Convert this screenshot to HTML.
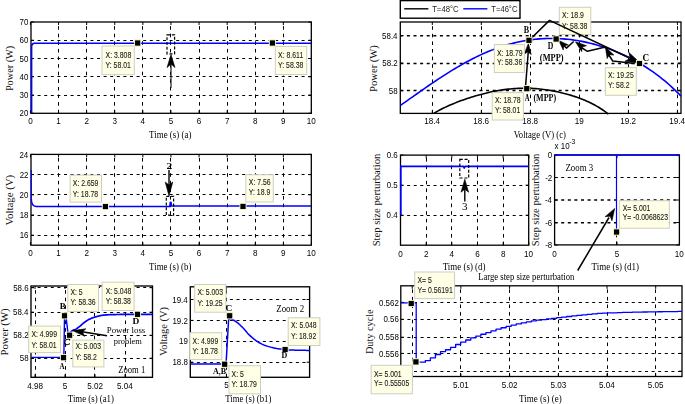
<!DOCTYPE html>
<html><head><meta charset="utf-8"><style>
html,body{margin:0;padding:0;background:#fff;}
svg{display:block;}
</style></head><body>
<svg width="685" height="404" viewBox="0 0 685 404">
<defs><filter id="gs" x="0" y="0" width="100%" height="100%"><feColorMatrix type="saturate" values="0"/></filter></defs>
<rect width="685" height="404" fill="#fff"/>
<line x1="58.50" y1="113.30" x2="58.50" y2="22.00" stroke="#000" stroke-width="1.0" stroke-dasharray="3.6 4"/>
<line x1="86.50" y1="113.30" x2="86.50" y2="22.00" stroke="#000" stroke-width="1.0" stroke-dasharray="3.6 4"/>
<line x1="114.50" y1="113.30" x2="114.50" y2="22.00" stroke="#000" stroke-width="1.0" stroke-dasharray="3.6 4"/>
<line x1="142.50" y1="113.30" x2="142.50" y2="22.00" stroke="#000" stroke-width="1.0" stroke-dasharray="3.6 4"/>
<line x1="170.50" y1="113.30" x2="170.50" y2="22.00" stroke="#000" stroke-width="1.0" stroke-dasharray="3.6 4"/>
<line x1="199.50" y1="113.30" x2="199.50" y2="22.00" stroke="#000" stroke-width="1.0" stroke-dasharray="3.6 4"/>
<line x1="227.50" y1="113.30" x2="227.50" y2="22.00" stroke="#000" stroke-width="1.0" stroke-dasharray="3.6 4"/>
<line x1="255.50" y1="113.30" x2="255.50" y2="22.00" stroke="#000" stroke-width="1.0" stroke-dasharray="3.6 4"/>
<line x1="283.50" y1="113.30" x2="283.50" y2="22.00" stroke="#000" stroke-width="1.0" stroke-dasharray="3.6 4"/>
<line x1="31.00" y1="95.50" x2="311.30" y2="95.50" stroke="#000" stroke-width="1.0" stroke-dasharray="3 3.6"/>
<line x1="31.00" y1="76.50" x2="311.30" y2="76.50" stroke="#000" stroke-width="1.0" stroke-dasharray="3 3.6"/>
<line x1="31.00" y1="58.50" x2="311.30" y2="58.50" stroke="#000" stroke-width="1.0" stroke-dasharray="3 3.6"/>
<line x1="31.00" y1="40.50" x2="311.30" y2="40.50" stroke="#000" stroke-width="1.0" stroke-dasharray="3 3.6"/>
<line x1="30.45" y1="113.30" x2="30.45" y2="110.30" stroke="#000" stroke-width="1"/>
<line x1="30.45" y1="22.00" x2="30.45" y2="25.00" stroke="#000" stroke-width="1"/>
<line x1="58.55" y1="113.30" x2="58.55" y2="110.30" stroke="#000" stroke-width="1"/>
<line x1="58.55" y1="22.00" x2="58.55" y2="25.00" stroke="#000" stroke-width="1"/>
<line x1="86.65" y1="113.30" x2="86.65" y2="110.30" stroke="#000" stroke-width="1"/>
<line x1="86.65" y1="22.00" x2="86.65" y2="25.00" stroke="#000" stroke-width="1"/>
<line x1="114.75" y1="113.30" x2="114.75" y2="110.30" stroke="#000" stroke-width="1"/>
<line x1="114.75" y1="22.00" x2="114.75" y2="25.00" stroke="#000" stroke-width="1"/>
<line x1="142.85" y1="113.30" x2="142.85" y2="110.30" stroke="#000" stroke-width="1"/>
<line x1="142.85" y1="22.00" x2="142.85" y2="25.00" stroke="#000" stroke-width="1"/>
<line x1="170.95" y1="113.30" x2="170.95" y2="110.30" stroke="#000" stroke-width="1"/>
<line x1="170.95" y1="22.00" x2="170.95" y2="25.00" stroke="#000" stroke-width="1"/>
<line x1="199.05" y1="113.30" x2="199.05" y2="110.30" stroke="#000" stroke-width="1"/>
<line x1="199.05" y1="22.00" x2="199.05" y2="25.00" stroke="#000" stroke-width="1"/>
<line x1="227.15" y1="113.30" x2="227.15" y2="110.30" stroke="#000" stroke-width="1"/>
<line x1="227.15" y1="22.00" x2="227.15" y2="25.00" stroke="#000" stroke-width="1"/>
<line x1="255.25" y1="113.30" x2="255.25" y2="110.30" stroke="#000" stroke-width="1"/>
<line x1="255.25" y1="22.00" x2="255.25" y2="25.00" stroke="#000" stroke-width="1"/>
<line x1="283.35" y1="113.30" x2="283.35" y2="110.30" stroke="#000" stroke-width="1"/>
<line x1="283.35" y1="22.00" x2="283.35" y2="25.00" stroke="#000" stroke-width="1"/>
<line x1="311.45" y1="113.30" x2="311.45" y2="110.30" stroke="#000" stroke-width="1"/>
<line x1="311.45" y1="22.00" x2="311.45" y2="25.00" stroke="#000" stroke-width="1"/>
<line x1="31.00" y1="113.30" x2="34.00" y2="113.30" stroke="#000" stroke-width="1"/>
<line x1="311.30" y1="113.30" x2="308.30" y2="113.30" stroke="#000" stroke-width="1"/>
<line x1="31.00" y1="95.04" x2="34.00" y2="95.04" stroke="#000" stroke-width="1"/>
<line x1="311.30" y1="95.04" x2="308.30" y2="95.04" stroke="#000" stroke-width="1"/>
<line x1="31.00" y1="76.78" x2="34.00" y2="76.78" stroke="#000" stroke-width="1"/>
<line x1="311.30" y1="76.78" x2="308.30" y2="76.78" stroke="#000" stroke-width="1"/>
<line x1="31.00" y1="58.52" x2="34.00" y2="58.52" stroke="#000" stroke-width="1"/>
<line x1="311.30" y1="58.52" x2="308.30" y2="58.52" stroke="#000" stroke-width="1"/>
<line x1="31.00" y1="40.26" x2="34.00" y2="40.26" stroke="#000" stroke-width="1"/>
<line x1="311.30" y1="40.26" x2="308.30" y2="40.26" stroke="#000" stroke-width="1"/>
<line x1="31.00" y1="22.00" x2="34.00" y2="22.00" stroke="#000" stroke-width="1"/>
<line x1="311.30" y1="22.00" x2="308.30" y2="22.00" stroke="#000" stroke-width="1"/>
<rect x="31.00" y="22.00" width="280.30" height="91.30" fill="none" stroke="#000" stroke-width="1.3"/>
<text filter="url(#gs)" transform="translate(28.18,124.40) scale(0.820,1)" font-family="Liberation Sans" font-weight="normal" font-size="9.9" fill="#000">0</text>
<text filter="url(#gs)" transform="translate(56.16,124.40) scale(0.820,1)" font-family="Liberation Sans" font-weight="normal" font-size="9.9" fill="#000">1</text>
<text filter="url(#gs)" transform="translate(84.38,124.40) scale(0.820,1)" font-family="Liberation Sans" font-weight="normal" font-size="9.9" fill="#000">2</text>
<text filter="url(#gs)" transform="translate(112.52,124.40) scale(0.820,1)" font-family="Liberation Sans" font-weight="normal" font-size="9.9" fill="#000">3</text>
<text filter="url(#gs)" transform="translate(140.62,124.40) scale(0.820,1)" font-family="Liberation Sans" font-weight="normal" font-size="9.9" fill="#000">4</text>
<text filter="url(#gs)" transform="translate(168.72,124.40) scale(0.820,1)" font-family="Liberation Sans" font-weight="normal" font-size="9.9" fill="#000">5</text>
<text filter="url(#gs)" transform="translate(196.78,124.40) scale(0.820,1)" font-family="Liberation Sans" font-weight="normal" font-size="9.9" fill="#000">6</text>
<text filter="url(#gs)" transform="translate(224.88,124.40) scale(0.820,1)" font-family="Liberation Sans" font-weight="normal" font-size="9.9" fill="#000">7</text>
<text filter="url(#gs)" transform="translate(253.02,124.40) scale(0.820,1)" font-family="Liberation Sans" font-weight="normal" font-size="9.9" fill="#000">8</text>
<text filter="url(#gs)" transform="translate(281.08,124.40) scale(0.820,1)" font-family="Liberation Sans" font-weight="normal" font-size="9.9" fill="#000">9</text>
<text filter="url(#gs)" transform="translate(306.74,124.40) scale(0.820,1)" font-family="Liberation Sans" font-weight="normal" font-size="9.9" fill="#000">10</text>
<text filter="url(#gs)" transform="translate(19.55,116.45) scale(0.800,1)" font-family="Liberation Sans" font-weight="normal" font-size="9.9" fill="#000">20</text>
<text filter="url(#gs)" transform="translate(19.55,98.19) scale(0.800,1)" font-family="Liberation Sans" font-weight="normal" font-size="9.9" fill="#000">30</text>
<text filter="url(#gs)" transform="translate(19.55,79.93) scale(0.800,1)" font-family="Liberation Sans" font-weight="normal" font-size="9.9" fill="#000">40</text>
<text filter="url(#gs)" transform="translate(19.55,61.67) scale(0.800,1)" font-family="Liberation Sans" font-weight="normal" font-size="9.9" fill="#000">50</text>
<text filter="url(#gs)" transform="translate(19.55,43.41) scale(0.800,1)" font-family="Liberation Sans" font-weight="normal" font-size="9.9" fill="#000">60</text>
<text filter="url(#gs)" transform="translate(19.55,25.15) scale(0.800,1)" font-family="Liberation Sans" font-weight="normal" font-size="9.9" fill="#000">70</text>
<text filter="url(#gs)" transform="translate(149.12,138.00) scale(0.891,1)" font-family="Liberation Serif" font-weight="normal" font-size="10" fill="#000">Time (s) (a)</text>
<text transform="translate(13.20,91.11) rotate(-90) scale(1.028,1)" font-family="Liberation Serif" font-weight="normal" font-size="10" fill="#111">Power (W)</text>
<path d="M31.6,113.3 V46.5 Q31.6,43.4 34.5,43.3 H311" stroke="#0000ff" stroke-width="1.55" fill="none" stroke-linejoin="round"/>
<rect x="167.00" y="34.80" width="7.60" height="19.10" fill="none" stroke="#000" stroke-width="1.2" stroke-dasharray="3 1.8"/>
<line x1="171.00" y1="88.00" x2="171.00" y2="60.00" stroke="#222" stroke-width="1.2"/>
<path d="M171.00,54.60 L175.00,67.60 L171.00,64.10 L167.00,67.60Z" fill="#000" stroke="#000" stroke-width="0.6" stroke-linejoin="miter"/>
<rect x="102.00" y="46.00" width="32.30" height="28.70" fill="#ffffe6" stroke="#cdcdc4" stroke-width="1"/>
<text filter="url(#gs)" transform="translate(105.59,57.70) scale(0.840,1)" font-family="Liberation Sans" font-weight="normal" font-size="8.2" fill="#1a1a1a" stroke="#1a1a1a" stroke-width="0.1">X: 3.808</text>
<text filter="url(#gs)" transform="translate(105.59,68.10) scale(0.840,1)" font-family="Liberation Sans" font-weight="normal" font-size="8.2" fill="#1a1a1a" stroke="#1a1a1a" stroke-width="0.1">Y: 58.01</text>
<rect x="134.60" y="39.90" width="6.2" height="6.2" fill="#000" stroke="#ffffc8" stroke-width="0.9"/>
<rect x="275.30" y="46.40" width="31.40" height="28.10" fill="#ffffe6" stroke="#cdcdc4" stroke-width="1"/>
<text filter="url(#gs)" transform="translate(278.09,57.60) scale(0.840,1)" font-family="Liberation Sans" font-weight="normal" font-size="8.2" fill="#1a1a1a" stroke="#1a1a1a" stroke-width="0.1">X: 8.611</text>
<text filter="url(#gs)" transform="translate(278.09,67.80) scale(0.840,1)" font-family="Liberation Sans" font-weight="normal" font-size="8.2" fill="#1a1a1a" stroke="#1a1a1a" stroke-width="0.1">Y: 58.38</text>
<rect x="269.30" y="39.90" width="6.2" height="6.2" fill="#000" stroke="#ffffc8" stroke-width="0.9"/>
<line x1="58.50" y1="245.20" x2="58.50" y2="154.40" stroke="#000" stroke-width="1.0" stroke-dasharray="3.6 4"/>
<line x1="86.50" y1="245.20" x2="86.50" y2="154.40" stroke="#000" stroke-width="1.0" stroke-dasharray="3.6 4"/>
<line x1="114.50" y1="245.20" x2="114.50" y2="154.40" stroke="#000" stroke-width="1.0" stroke-dasharray="3.6 4"/>
<line x1="142.50" y1="245.20" x2="142.50" y2="154.40" stroke="#000" stroke-width="1.0" stroke-dasharray="3.6 4"/>
<line x1="170.50" y1="245.20" x2="170.50" y2="154.40" stroke="#000" stroke-width="1.0" stroke-dasharray="3.6 4"/>
<line x1="199.50" y1="245.20" x2="199.50" y2="154.40" stroke="#000" stroke-width="1.0" stroke-dasharray="3.6 4"/>
<line x1="227.50" y1="245.20" x2="227.50" y2="154.40" stroke="#000" stroke-width="1.0" stroke-dasharray="3.6 4"/>
<line x1="255.50" y1="245.20" x2="255.50" y2="154.40" stroke="#000" stroke-width="1.0" stroke-dasharray="3.6 4"/>
<line x1="283.50" y1="245.20" x2="283.50" y2="154.40" stroke="#000" stroke-width="1.0" stroke-dasharray="3.6 4"/>
<line x1="31.00" y1="235.50" x2="311.30" y2="235.50" stroke="#000" stroke-width="1.0" stroke-dasharray="3 3.6"/>
<line x1="31.00" y1="215.50" x2="311.30" y2="215.50" stroke="#000" stroke-width="1.0" stroke-dasharray="3 3.6"/>
<line x1="31.00" y1="194.50" x2="311.30" y2="194.50" stroke="#000" stroke-width="1.0" stroke-dasharray="3 3.6"/>
<line x1="31.00" y1="174.50" x2="311.30" y2="174.50" stroke="#000" stroke-width="1.0" stroke-dasharray="3 3.6"/>
<line x1="30.45" y1="245.20" x2="30.45" y2="242.20" stroke="#000" stroke-width="1"/>
<line x1="30.45" y1="154.40" x2="30.45" y2="157.40" stroke="#000" stroke-width="1"/>
<line x1="58.55" y1="245.20" x2="58.55" y2="242.20" stroke="#000" stroke-width="1"/>
<line x1="58.55" y1="154.40" x2="58.55" y2="157.40" stroke="#000" stroke-width="1"/>
<line x1="86.65" y1="245.20" x2="86.65" y2="242.20" stroke="#000" stroke-width="1"/>
<line x1="86.65" y1="154.40" x2="86.65" y2="157.40" stroke="#000" stroke-width="1"/>
<line x1="114.75" y1="245.20" x2="114.75" y2="242.20" stroke="#000" stroke-width="1"/>
<line x1="114.75" y1="154.40" x2="114.75" y2="157.40" stroke="#000" stroke-width="1"/>
<line x1="142.85" y1="245.20" x2="142.85" y2="242.20" stroke="#000" stroke-width="1"/>
<line x1="142.85" y1="154.40" x2="142.85" y2="157.40" stroke="#000" stroke-width="1"/>
<line x1="170.95" y1="245.20" x2="170.95" y2="242.20" stroke="#000" stroke-width="1"/>
<line x1="170.95" y1="154.40" x2="170.95" y2="157.40" stroke="#000" stroke-width="1"/>
<line x1="199.05" y1="245.20" x2="199.05" y2="242.20" stroke="#000" stroke-width="1"/>
<line x1="199.05" y1="154.40" x2="199.05" y2="157.40" stroke="#000" stroke-width="1"/>
<line x1="227.15" y1="245.20" x2="227.15" y2="242.20" stroke="#000" stroke-width="1"/>
<line x1="227.15" y1="154.40" x2="227.15" y2="157.40" stroke="#000" stroke-width="1"/>
<line x1="255.25" y1="245.20" x2="255.25" y2="242.20" stroke="#000" stroke-width="1"/>
<line x1="255.25" y1="154.40" x2="255.25" y2="157.40" stroke="#000" stroke-width="1"/>
<line x1="283.35" y1="245.20" x2="283.35" y2="242.20" stroke="#000" stroke-width="1"/>
<line x1="283.35" y1="154.40" x2="283.35" y2="157.40" stroke="#000" stroke-width="1"/>
<line x1="311.45" y1="245.20" x2="311.45" y2="242.20" stroke="#000" stroke-width="1"/>
<line x1="311.45" y1="154.40" x2="311.45" y2="157.40" stroke="#000" stroke-width="1"/>
<line x1="31.00" y1="235.20" x2="34.00" y2="235.20" stroke="#000" stroke-width="1"/>
<line x1="311.30" y1="235.20" x2="308.30" y2="235.20" stroke="#000" stroke-width="1"/>
<line x1="31.00" y1="215.00" x2="34.00" y2="215.00" stroke="#000" stroke-width="1"/>
<line x1="311.30" y1="215.00" x2="308.30" y2="215.00" stroke="#000" stroke-width="1"/>
<line x1="31.00" y1="194.80" x2="34.00" y2="194.80" stroke="#000" stroke-width="1"/>
<line x1="311.30" y1="194.80" x2="308.30" y2="194.80" stroke="#000" stroke-width="1"/>
<line x1="31.00" y1="174.60" x2="34.00" y2="174.60" stroke="#000" stroke-width="1"/>
<line x1="311.30" y1="174.60" x2="308.30" y2="174.60" stroke="#000" stroke-width="1"/>
<line x1="31.00" y1="154.40" x2="34.00" y2="154.40" stroke="#000" stroke-width="1"/>
<line x1="311.30" y1="154.40" x2="308.30" y2="154.40" stroke="#000" stroke-width="1"/>
<rect x="31.00" y="154.40" width="280.30" height="90.80" fill="none" stroke="#000" stroke-width="1.3"/>
<text filter="url(#gs)" transform="translate(28.18,256.10) scale(0.820,1)" font-family="Liberation Sans" font-weight="normal" font-size="9.9" fill="#000">0</text>
<text filter="url(#gs)" transform="translate(56.16,256.10) scale(0.820,1)" font-family="Liberation Sans" font-weight="normal" font-size="9.9" fill="#000">1</text>
<text filter="url(#gs)" transform="translate(84.38,256.10) scale(0.820,1)" font-family="Liberation Sans" font-weight="normal" font-size="9.9" fill="#000">2</text>
<text filter="url(#gs)" transform="translate(112.52,256.10) scale(0.820,1)" font-family="Liberation Sans" font-weight="normal" font-size="9.9" fill="#000">3</text>
<text filter="url(#gs)" transform="translate(140.62,256.10) scale(0.820,1)" font-family="Liberation Sans" font-weight="normal" font-size="9.9" fill="#000">4</text>
<text filter="url(#gs)" transform="translate(168.72,256.10) scale(0.820,1)" font-family="Liberation Sans" font-weight="normal" font-size="9.9" fill="#000">5</text>
<text filter="url(#gs)" transform="translate(196.78,256.10) scale(0.820,1)" font-family="Liberation Sans" font-weight="normal" font-size="9.9" fill="#000">6</text>
<text filter="url(#gs)" transform="translate(224.88,256.10) scale(0.820,1)" font-family="Liberation Sans" font-weight="normal" font-size="9.9" fill="#000">7</text>
<text filter="url(#gs)" transform="translate(253.02,256.10) scale(0.820,1)" font-family="Liberation Sans" font-weight="normal" font-size="9.9" fill="#000">8</text>
<text filter="url(#gs)" transform="translate(281.08,256.10) scale(0.820,1)" font-family="Liberation Sans" font-weight="normal" font-size="9.9" fill="#000">9</text>
<text filter="url(#gs)" transform="translate(306.74,256.10) scale(0.820,1)" font-family="Liberation Sans" font-weight="normal" font-size="9.9" fill="#000">10</text>
<text filter="url(#gs)" transform="translate(19.63,238.35) scale(0.800,1)" font-family="Liberation Sans" font-weight="normal" font-size="9.9" fill="#000">16</text>
<text filter="url(#gs)" transform="translate(19.63,218.15) scale(0.800,1)" font-family="Liberation Sans" font-weight="normal" font-size="9.9" fill="#000">18</text>
<text filter="url(#gs)" transform="translate(19.55,197.95) scale(0.800,1)" font-family="Liberation Sans" font-weight="normal" font-size="9.9" fill="#000">20</text>
<text filter="url(#gs)" transform="translate(19.63,177.75) scale(0.800,1)" font-family="Liberation Sans" font-weight="normal" font-size="9.9" fill="#000">22</text>
<text filter="url(#gs)" transform="translate(19.47,157.55) scale(0.800,1)" font-family="Liberation Sans" font-weight="normal" font-size="9.9" fill="#000">24</text>
<text filter="url(#gs)" transform="translate(149.12,269.50) scale(0.882,1)" font-family="Liberation Serif" font-weight="normal" font-size="10" fill="#000">Time (s) (b)</text>
<text transform="translate(13.20,225.41) rotate(-90) scale(1.084,1)" font-family="Liberation Serif" font-weight="normal" font-size="10" fill="#111">Voltage (V)</text>
<path d="M31.3,170 V199" stroke="#0000ff" stroke-width="1.1" fill="none" stroke-linejoin="round"/>
<path d="M31.3,199 Q31.4,206.2 36,206.4 H169.8 L170.3,202.3 L171,202.3 L171.6,206 H311" stroke="#0000ff" stroke-width="1.55" fill="none" stroke-linejoin="round"/>
<rect x="166.30" y="196.30" width="7.30" height="18.90" fill="none" stroke="#000" stroke-width="1.2" stroke-dasharray="3 1.8"/>
<text filter="url(#gs)" transform="translate(166.44,169.30) scale(1.270,1)" font-family="Liberation Serif" font-weight="bold" font-size="9" fill="#000">2</text>
<line x1="169.00" y1="170.00" x2="169.00" y2="185.00" stroke="#000" stroke-width="1.4"/>
<path d="M169.00,196.00 L165.20,182.00 L169.00,185.00 L172.80,182.00Z" fill="#000" stroke="#000" stroke-width="0.6" stroke-linejoin="miter"/>
<rect x="70.10" y="175.10" width="31.40" height="27.00" fill="#ffffe6" stroke="#cdcdc4" stroke-width="1"/>
<text filter="url(#gs)" transform="translate(72.79,185.80) scale(0.840,1)" font-family="Liberation Sans" font-weight="normal" font-size="8.2" fill="#1a1a1a" stroke="#1a1a1a" stroke-width="0.1">X: 2.659</text>
<text filter="url(#gs)" transform="translate(72.79,196.60) scale(0.840,1)" font-family="Liberation Sans" font-weight="normal" font-size="8.2" fill="#1a1a1a" stroke="#1a1a1a" stroke-width="0.1">Y: 18.78</text>
<rect x="102.30" y="203.50" width="6.2" height="6.2" fill="#000" stroke="#ffffc8" stroke-width="0.9"/>
<rect x="245.90" y="174.70" width="27.40" height="27.30" fill="#ffffe6" stroke="#cdcdc4" stroke-width="1"/>
<text filter="url(#gs)" transform="translate(248.79,184.70) scale(0.840,1)" font-family="Liberation Sans" font-weight="normal" font-size="8.2" fill="#1a1a1a" stroke="#1a1a1a" stroke-width="0.1">X: 7.56</text>
<text filter="url(#gs)" transform="translate(248.79,195.10) scale(0.840,1)" font-family="Liberation Sans" font-weight="normal" font-size="8.2" fill="#1a1a1a" stroke="#1a1a1a" stroke-width="0.1">Y: 18.9</text>
<rect x="239.90" y="203.30" width="6.2" height="6.2" fill="#000" stroke="#ffffc8" stroke-width="0.9"/>
<line x1="35.50" y1="377.30" x2="35.50" y2="286.00" stroke="#000" stroke-width="1.0" stroke-dasharray="3.6 4"/>
<line x1="65.50" y1="377.30" x2="65.50" y2="286.00" stroke="#000" stroke-width="1.0" stroke-dasharray="3.6 4"/>
<line x1="94.50" y1="377.30" x2="94.50" y2="286.00" stroke="#000" stroke-width="1.0" stroke-dasharray="3.6 4"/>
<line x1="125.50" y1="377.30" x2="125.50" y2="286.00" stroke="#000" stroke-width="1.0" stroke-dasharray="3.6 4"/>
<line x1="31.00" y1="358.50" x2="152.50" y2="358.50" stroke="#000" stroke-width="1.0" stroke-dasharray="3 3.6"/>
<line x1="31.00" y1="335.50" x2="152.50" y2="335.50" stroke="#000" stroke-width="1.0" stroke-dasharray="3 3.6"/>
<line x1="31.00" y1="312.50" x2="152.50" y2="312.50" stroke="#000" stroke-width="1.0" stroke-dasharray="3 3.6"/>
<line x1="31.00" y1="287.50" x2="152.50" y2="287.50" stroke="#000" stroke-width="1.0" stroke-dasharray="3 3.6"/>
<line x1="35.00" y1="377.30" x2="35.00" y2="374.30" stroke="#000" stroke-width="1"/>
<line x1="35.00" y1="286.00" x2="35.00" y2="289.00" stroke="#000" stroke-width="1"/>
<line x1="65.00" y1="377.30" x2="65.00" y2="374.30" stroke="#000" stroke-width="1"/>
<line x1="65.00" y1="286.00" x2="65.00" y2="289.00" stroke="#000" stroke-width="1"/>
<line x1="95.00" y1="377.30" x2="95.00" y2="374.30" stroke="#000" stroke-width="1"/>
<line x1="95.00" y1="286.00" x2="95.00" y2="289.00" stroke="#000" stroke-width="1"/>
<line x1="125.00" y1="377.30" x2="125.00" y2="374.30" stroke="#000" stroke-width="1"/>
<line x1="125.00" y1="286.00" x2="125.00" y2="289.00" stroke="#000" stroke-width="1"/>
<line x1="31.00" y1="358.20" x2="34.00" y2="358.20" stroke="#000" stroke-width="1"/>
<line x1="152.50" y1="358.20" x2="149.50" y2="358.20" stroke="#000" stroke-width="1"/>
<line x1="31.00" y1="335.30" x2="34.00" y2="335.30" stroke="#000" stroke-width="1"/>
<line x1="152.50" y1="335.30" x2="149.50" y2="335.30" stroke="#000" stroke-width="1"/>
<line x1="31.00" y1="312.20" x2="34.00" y2="312.20" stroke="#000" stroke-width="1"/>
<line x1="152.50" y1="312.20" x2="149.50" y2="312.20" stroke="#000" stroke-width="1"/>
<line x1="31.00" y1="287.70" x2="34.00" y2="287.70" stroke="#000" stroke-width="1"/>
<line x1="152.50" y1="287.70" x2="149.50" y2="287.70" stroke="#000" stroke-width="1"/>
<rect x="31.00" y="286.00" width="121.50" height="91.30" fill="none" stroke="#000" stroke-width="1.35"/>
<text filter="url(#gs)" transform="translate(27.21,388.60) scale(0.820,1)" font-family="Liberation Sans" font-weight="normal" font-size="9.9" fill="#000">4.98</text>
<text filter="url(#gs)" transform="translate(62.77,388.60) scale(0.820,1)" font-family="Liberation Sans" font-weight="normal" font-size="9.9" fill="#000">5</text>
<text filter="url(#gs)" transform="translate(87.13,388.60) scale(0.820,1)" font-family="Liberation Sans" font-weight="normal" font-size="9.9" fill="#000">5.02</text>
<text filter="url(#gs)" transform="translate(117.04,388.60) scale(0.820,1)" font-family="Liberation Sans" font-weight="normal" font-size="9.9" fill="#000">5.04</text>
<text filter="url(#gs)" transform="translate(19.73,361.35) scale(0.800,1)" font-family="Liberation Sans" font-weight="normal" font-size="9.9" fill="#000">58</text>
<text filter="url(#gs)" transform="translate(13.15,338.45) scale(0.800,1)" font-family="Liberation Sans" font-weight="normal" font-size="9.9" fill="#000">58.2</text>
<text filter="url(#gs)" transform="translate(12.99,315.35) scale(0.800,1)" font-family="Liberation Sans" font-weight="normal" font-size="9.9" fill="#000">58.4</text>
<text filter="url(#gs)" transform="translate(13.15,290.85) scale(0.800,1)" font-family="Liberation Sans" font-weight="normal" font-size="9.9" fill="#000">58.6</text>
<text filter="url(#gs)" transform="translate(67.82,401.60) scale(0.882,1)" font-family="Liberation Serif" font-weight="normal" font-size="10" fill="#000">Time (s) (a1)</text>
<text transform="translate(7.80,355.52) rotate(-90) scale(1.065,1)" font-family="Liberation Serif" font-weight="normal" font-size="10" fill="#111">Power (W)</text>
<path d="M31.80,357.40 L63.40,357.40 L63.90,354.00 L64.50,317.50 L65.60,316.50 L66.20,318.00 L68.00,333.40" stroke="#0000ff" stroke-width="1.4" fill="none" stroke-linejoin="round"/>
<path d="M68.50,333.50 L68.77,333.30 L69.11,333.02 L69.53,332.69 L69.99,332.32 L70.49,331.95 L71.00,331.57 L71.51,331.21 L72.00,330.90 L72.49,330.63 L72.99,330.37 L73.51,330.13 L74.04,329.90 L74.57,329.67 L75.09,329.43 L75.60,329.17 L76.10,328.90 L76.58,328.61 L77.05,328.31 L77.51,328.00 L77.97,327.68 L78.42,327.35 L78.88,327.01 L79.34,326.66 L79.80,326.30 L80.27,325.92 L80.75,325.51 L81.22,325.08 L81.70,324.65 L82.18,324.22 L82.65,323.79 L83.13,323.38 L83.60,323.00 L84.07,322.64 L84.53,322.28 L84.99,321.94 L85.46,321.61 L85.92,321.29 L86.38,320.98 L86.84,320.69 L87.30,320.40 L87.76,320.12 L88.22,319.86 L88.69,319.61 L89.15,319.37 L89.61,319.14 L90.08,318.92 L90.54,318.70 L91.00,318.50 L91.46,318.31 L91.92,318.13 L92.39,317.96 L92.85,317.80 L93.31,317.65 L93.78,317.50 L94.24,317.35 L94.70,317.20 L95.16,317.05 L95.62,316.90 L96.09,316.76 L96.55,316.62 L97.01,316.48 L97.48,316.35 L97.94,316.22 L98.40,316.10 L98.87,315.98 L99.34,315.87 L99.82,315.76 L100.30,315.65 L100.77,315.55 L101.23,315.46 L101.68,315.37 L102.10,315.30 L102.49,315.24 L102.83,315.19 L103.15,315.15 L103.47,315.12 L103.79,315.09 L104.15,315.06 L104.54,315.03 L105.00,315.00 L105.50,314.96 L106.03,314.92 L106.59,314.88 L107.18,314.84 L107.81,314.81 L108.49,314.77 L109.22,314.73 L110.00,314.70 L110.83,314.67 L111.70,314.64 L112.60,314.61 L113.56,314.59 L114.58,314.56 L115.65,314.54 L116.79,314.52 L118.00,314.50 L119.24,314.48 L120.47,314.47 L121.75,314.45 L123.09,314.44 L124.56,314.43 L126.17,314.42 L127.97,314.41 L130.00,314.40 L132.46,314.40 L135.41,314.39 L138.66,314.39 L142.00,314.39 L145.25,314.40 L148.21,314.40 L150.69,314.40 L152.50,314.40" stroke="#0000ff" stroke-width="1.7" fill="none" stroke-linejoin="round"/>
<rect x="67.80" y="284.50" width="30.70" height="26.90" fill="#ffffe6" stroke="#cdcdc4" stroke-width="1"/>
<text filter="url(#gs)" transform="translate(70.39,294.90) scale(0.840,1)" font-family="Liberation Sans" font-weight="normal" font-size="8.2" fill="#1a1a1a" stroke="#1a1a1a" stroke-width="0.1">X: 5</text>
<text filter="url(#gs)" transform="translate(70.39,305.30) scale(0.840,1)" font-family="Liberation Sans" font-weight="normal" font-size="8.2" fill="#1a1a1a" stroke="#1a1a1a" stroke-width="0.1">Y: 58.36</text>
<rect x="102.10" y="282.20" width="32.00" height="28.30" fill="#ffffe6" stroke="#cdcdc4" stroke-width="1"/>
<text filter="url(#gs)" transform="translate(105.69,293.90) scale(0.840,1)" font-family="Liberation Sans" font-weight="normal" font-size="8.2" fill="#1a1a1a" stroke="#1a1a1a" stroke-width="0.1">X: 5.048</text>
<text filter="url(#gs)" transform="translate(105.69,304.30) scale(0.840,1)" font-family="Liberation Sans" font-weight="normal" font-size="8.2" fill="#1a1a1a" stroke="#1a1a1a" stroke-width="0.1">Y: 58.38</text>
<rect x="28.70" y="326.10" width="31.80" height="26.50" fill="#ffffe6" stroke="#cdcdc4" stroke-width="1"/>
<text filter="url(#gs)" transform="translate(31.39,337.30) scale(0.840,1)" font-family="Liberation Sans" font-weight="normal" font-size="8.2" fill="#1a1a1a" stroke="#1a1a1a" stroke-width="0.1">X: 4.999</text>
<text filter="url(#gs)" transform="translate(31.39,347.70) scale(0.840,1)" font-family="Liberation Sans" font-weight="normal" font-size="8.2" fill="#1a1a1a" stroke="#1a1a1a" stroke-width="0.1">Y: 58.01</text>
<rect x="72.80" y="340.10" width="31.10" height="26.80" fill="#ffffe6" stroke="#cdcdc4" stroke-width="1"/>
<text filter="url(#gs)" transform="translate(75.39,349.20) scale(0.840,1)" font-family="Liberation Sans" font-weight="normal" font-size="8.2" fill="#1a1a1a" stroke="#1a1a1a" stroke-width="0.1">X: 5.003</text>
<text filter="url(#gs)" transform="translate(75.39,359.70) scale(0.840,1)" font-family="Liberation Sans" font-weight="normal" font-size="8.2" fill="#1a1a1a" stroke="#1a1a1a" stroke-width="0.1">Y: 58.2</text>
<rect x="61.40" y="312.70" width="6.2" height="6.2" fill="#000" stroke="#ffffc8" stroke-width="0.9"/>
<rect x="134.40" y="311.20" width="6.2" height="6.2" fill="#000" stroke="#ffffc8" stroke-width="0.9"/>
<rect x="66.50" y="332.10" width="6.2" height="6.2" fill="#000" stroke="#ffffc8" stroke-width="0.9"/>
<rect x="60.40" y="354.60" width="6.2" height="6.2" fill="#000" stroke="#ffffc8" stroke-width="0.9"/>
<text filter="url(#gs)" transform="translate(118.17,373.40) scale(0.865,1)" font-family="Liberation Serif" font-weight="normal" font-size="10" fill="#000">Zoom 1</text>
<text filter="url(#gs)" transform="translate(106.73,332.70) scale(0.984,1)" font-family="Liberation Serif" font-weight="normal" font-size="9" fill="#000">Power loss</text>
<text filter="url(#gs)" transform="translate(113.73,343.80) scale(0.935,1)" font-family="Liberation Serif" font-weight="normal" font-size="9" fill="#000">problem</text>
<text filter="url(#gs)" transform="translate(59.82,308.50) scale(0.986,1)" font-family="Liberation Serif" font-weight="bold" font-size="9" fill="#000">B</text>
<text filter="url(#gs)" transform="translate(132.61,324.40) scale(1.043,1)" font-family="Liberation Serif" font-weight="bold" font-size="9" fill="#000">D</text>
<text filter="url(#gs)" transform="translate(63.64,345.10) scale(1.038,1)" font-family="Liberation Serif" font-weight="normal" font-style="italic" font-size="9" fill="#000" stroke="#000" stroke-width="0.35">C</text>
<text filter="url(#gs)" transform="translate(59.53,368.50) scale(0.778,1)" font-family="Liberation Serif" font-weight="bold" font-size="9" fill="#000">A</text>
<line x1="107.00" y1="335.80" x2="82.00" y2="331.80" stroke="#000" stroke-width="1.5"/>
<path d="M72.50,330.60 L85.92,328.78 L82.39,332.09 L84.79,336.30Z" fill="#000" stroke="#000" stroke-width="0.6" stroke-linejoin="miter"/>
<line x1="226.50" y1="377.30" x2="226.50" y2="286.80" stroke="#000" stroke-width="1.0" stroke-dasharray="3.6 4"/>
<line x1="190.30" y1="362.50" x2="309.60" y2="362.50" stroke="#000" stroke-width="1.0" stroke-dasharray="3 3.6"/>
<line x1="190.30" y1="341.50" x2="309.60" y2="341.50" stroke="#000" stroke-width="1.0" stroke-dasharray="3 3.6"/>
<line x1="190.30" y1="320.50" x2="309.60" y2="320.50" stroke="#000" stroke-width="1.0" stroke-dasharray="3 3.6"/>
<line x1="190.30" y1="299.50" x2="309.60" y2="299.50" stroke="#000" stroke-width="1.0" stroke-dasharray="3 3.6"/>
<line x1="226.40" y1="377.30" x2="226.40" y2="374.30" stroke="#000" stroke-width="1"/>
<line x1="226.40" y1="286.80" x2="226.40" y2="289.80" stroke="#000" stroke-width="1"/>
<line x1="190.30" y1="362.20" x2="193.30" y2="362.20" stroke="#000" stroke-width="1"/>
<line x1="309.60" y1="362.20" x2="306.60" y2="362.20" stroke="#000" stroke-width="1"/>
<line x1="190.30" y1="341.30" x2="193.30" y2="341.30" stroke="#000" stroke-width="1"/>
<line x1="309.60" y1="341.30" x2="306.60" y2="341.30" stroke="#000" stroke-width="1"/>
<line x1="190.30" y1="320.40" x2="193.30" y2="320.40" stroke="#000" stroke-width="1"/>
<line x1="309.60" y1="320.40" x2="306.60" y2="320.40" stroke="#000" stroke-width="1"/>
<line x1="190.30" y1="299.50" x2="193.30" y2="299.50" stroke="#000" stroke-width="1"/>
<line x1="309.60" y1="299.50" x2="306.60" y2="299.50" stroke="#000" stroke-width="1"/>
<rect x="190.30" y="286.80" width="119.30" height="90.50" fill="none" stroke="#000" stroke-width="1.35"/>
<text filter="url(#gs)" transform="translate(224.37,388.40) scale(0.820,1)" font-family="Liberation Sans" font-weight="normal" font-size="9.9" fill="#000">5</text>
<text filter="url(#gs)" transform="translate(172.45,365.35) scale(0.800,1)" font-family="Liberation Sans" font-weight="normal" font-size="9.9" fill="#000">18.8</text>
<text filter="url(#gs)" transform="translate(179.03,344.45) scale(0.800,1)" font-family="Liberation Sans" font-weight="normal" font-size="9.9" fill="#000">19</text>
<text filter="url(#gs)" transform="translate(172.45,323.55) scale(0.800,1)" font-family="Liberation Sans" font-weight="normal" font-size="9.9" fill="#000">19.2</text>
<text filter="url(#gs)" transform="translate(172.29,302.65) scale(0.800,1)" font-family="Liberation Sans" font-weight="normal" font-size="9.9" fill="#000">19.4</text>
<text filter="url(#gs)" transform="translate(225.23,402.00) scale(0.872,1)" font-family="Liberation Serif" font-weight="normal" font-size="10" fill="#000">Time (s) (b1)</text>
<text transform="translate(166.60,356.00) rotate(-90) scale(1.050,1)" font-family="Liberation Serif" font-weight="normal" font-size="10" fill="#111">Voltage (V)</text>
<path d="M190.60,363.90 L224.50,363.90 L226.10,363.00 L228.60,319.50 L230.50,318.60 L230.50,318.60 L230.73,318.71 L231.02,318.85 L231.37,319.01 L231.76,319.20 L232.18,319.41 L232.64,319.65 L233.11,319.91 L233.60,320.20 L234.11,320.51 L234.64,320.84 L235.21,321.19 L235.80,321.56 L236.41,321.97 L237.03,322.41 L237.66,322.88 L238.30,323.40 L238.95,323.96 L239.62,324.58 L240.31,325.23 L241.01,325.92 L241.71,326.63 L242.41,327.35 L243.11,328.08 L243.80,328.80 L244.47,329.53 L245.12,330.29 L245.77,331.05 L246.42,331.83 L247.08,332.61 L247.75,333.39 L248.46,334.15 L249.20,334.90 L249.98,335.64 L250.80,336.40 L251.65,337.15 L252.51,337.89 L253.39,338.61 L254.27,339.31 L255.14,339.98 L256.00,340.60 L256.85,341.18 L257.70,341.74 L258.55,342.26 L259.40,342.76 L260.25,343.23 L261.10,343.67 L261.95,344.10 L262.80,344.50 L263.65,344.88 L264.50,345.22 L265.35,345.55 L266.20,345.84 L267.05,346.12 L267.90,346.39 L268.75,346.65 L269.60,346.90 L270.46,347.14 L271.33,347.38 L272.21,347.60 L273.08,347.81 L273.95,348.00 L274.79,348.18 L275.61,348.35 L276.40,348.50 L277.14,348.63 L277.84,348.74 L278.50,348.83 L279.15,348.91 L279.80,348.98 L280.46,349.05 L281.16,349.12 L281.90,349.20 L282.64,349.29 L283.36,349.38 L284.07,349.48 L284.81,349.57 L285.62,349.66 L286.51,349.75 L287.53,349.83 L288.70,349.90 L290.09,349.97 L291.69,350.03 L293.44,350.09 L295.28,350.14 L297.12,350.19 L298.90,350.23 L300.55,350.27 L302.00,350.30 L303.31,350.33 L304.56,350.35 L305.74,350.36 L306.83,350.38 L307.82,350.38 L308.69,350.39 L309.42,350.39 L310.00,350.40" stroke="#0000ff" stroke-width="1.5" fill="none" stroke-linejoin="round"/>
<rect x="194.70" y="284.50" width="31.20" height="27.70" fill="#ffffe6" stroke="#cdcdc4" stroke-width="1"/>
<text filter="url(#gs)" transform="translate(197.39,295.30) scale(0.840,1)" font-family="Liberation Sans" font-weight="normal" font-size="8.2" fill="#1a1a1a" stroke="#1a1a1a" stroke-width="0.1">X: 5.003</text>
<text filter="url(#gs)" transform="translate(197.39,305.70) scale(0.840,1)" font-family="Liberation Sans" font-weight="normal" font-size="8.2" fill="#1a1a1a" stroke="#1a1a1a" stroke-width="0.1">Y: 19.25</text>
<rect x="288.20" y="317.80" width="31.70" height="27.70" fill="#ffffe6" stroke="#cdcdc4" stroke-width="1"/>
<text filter="url(#gs)" transform="translate(290.99,328.30) scale(0.840,1)" font-family="Liberation Sans" font-weight="normal" font-size="8.2" fill="#1a1a1a" stroke="#1a1a1a" stroke-width="0.1">X: 5.048</text>
<text filter="url(#gs)" transform="translate(290.99,338.70) scale(0.840,1)" font-family="Liberation Sans" font-weight="normal" font-size="8.2" fill="#1a1a1a" stroke="#1a1a1a" stroke-width="0.1">Y: 18.92</text>
<rect x="189.90" y="332.70" width="31.80" height="26.90" fill="#ffffe6" stroke="#cdcdc4" stroke-width="1"/>
<text filter="url(#gs)" transform="translate(192.59,344.30) scale(0.840,1)" font-family="Liberation Sans" font-weight="normal" font-size="8.2" fill="#1a1a1a" stroke="#1a1a1a" stroke-width="0.1">X: 4.999</text>
<text filter="url(#gs)" transform="translate(192.59,353.80) scale(0.840,1)" font-family="Liberation Sans" font-weight="normal" font-size="8.2" fill="#1a1a1a" stroke="#1a1a1a" stroke-width="0.1">Y: 18.78</text>
<rect x="229.00" y="365.70" width="31.50" height="28.10" fill="#ffffe6" stroke="#cdcdc4" stroke-width="1"/>
<text filter="url(#gs)" transform="translate(231.59,377.00) scale(0.840,1)" font-family="Liberation Sans" font-weight="normal" font-size="8.2" fill="#1a1a1a" stroke="#1a1a1a" stroke-width="0.1">X: 5</text>
<text filter="url(#gs)" transform="translate(231.59,387.20) scale(0.840,1)" font-family="Liberation Sans" font-weight="normal" font-size="8.2" fill="#1a1a1a" stroke="#1a1a1a" stroke-width="0.1">Y: 18.79</text>
<rect x="226.60" y="312.70" width="6.2" height="6.2" fill="#000" stroke="#ffffc8" stroke-width="0.9"/>
<rect x="282.00" y="346.40" width="6.2" height="6.2" fill="#000" stroke="#ffffc8" stroke-width="0.9"/>
<rect x="221.60" y="361.10" width="6.2" height="6.2" fill="#000" stroke="#ffffc8" stroke-width="0.9"/>
<text filter="url(#gs)" transform="translate(276.26,312.20) scale(0.888,1)" font-family="Liberation Serif" font-weight="normal" font-size="10" fill="#000">Zoom 2</text>
<text filter="url(#gs)" transform="translate(225.53,310.50) scale(1.037,1)" font-family="Liberation Serif" font-weight="bold" font-size="9" fill="#000">C</text>
<text filter="url(#gs)" transform="translate(281.54,358.40) scale(0.889,1)" font-family="Liberation Serif" font-weight="bold" font-size="9" fill="#000">D</text>
<text filter="url(#gs)" transform="translate(213.02,374.30) scale(0.896,1)" font-family="Liberation Serif" font-weight="bold" font-size="9" fill="#000">A,B</text>
<line x1="400.30" y1="35.80" x2="681.00" y2="35.80" stroke="#000" stroke-width="1.5" stroke-dasharray="3 3.6"/>
<line x1="400.30" y1="63.60" x2="681.00" y2="63.60" stroke="#000" stroke-width="1.5" stroke-dasharray="3 3.6"/>
<line x1="400.30" y1="90.40" x2="681.00" y2="90.40" stroke="#000" stroke-width="1.5" stroke-dasharray="3 3.6"/>
<line x1="432.50" y1="113.40" x2="432.50" y2="22.00" stroke="#000" stroke-width="1.0" stroke-dasharray="3.6 4"/>
<line x1="481.50" y1="113.40" x2="481.50" y2="22.00" stroke="#000" stroke-width="1.0" stroke-dasharray="3.6 4"/>
<line x1="530.50" y1="113.40" x2="530.50" y2="22.00" stroke="#000" stroke-width="1.0" stroke-dasharray="3.6 4"/>
<line x1="579.50" y1="113.40" x2="579.50" y2="22.00" stroke="#000" stroke-width="1.0" stroke-dasharray="3.6 4"/>
<line x1="628.50" y1="113.40" x2="628.50" y2="22.00" stroke="#000" stroke-width="1.0" stroke-dasharray="3.6 4"/>
<line x1="677.50" y1="113.40" x2="677.50" y2="22.00" stroke="#000" stroke-width="1.0" stroke-dasharray="3.6 4"/>
<line x1="432.30" y1="113.40" x2="432.30" y2="110.40" stroke="#000" stroke-width="1"/>
<line x1="432.30" y1="22.00" x2="432.30" y2="25.00" stroke="#000" stroke-width="1"/>
<line x1="481.32" y1="113.40" x2="481.32" y2="110.40" stroke="#000" stroke-width="1"/>
<line x1="481.32" y1="22.00" x2="481.32" y2="25.00" stroke="#000" stroke-width="1"/>
<line x1="530.34" y1="113.40" x2="530.34" y2="110.40" stroke="#000" stroke-width="1"/>
<line x1="530.34" y1="22.00" x2="530.34" y2="25.00" stroke="#000" stroke-width="1"/>
<line x1="579.36" y1="113.40" x2="579.36" y2="110.40" stroke="#000" stroke-width="1"/>
<line x1="579.36" y1="22.00" x2="579.36" y2="25.00" stroke="#000" stroke-width="1"/>
<line x1="628.38" y1="113.40" x2="628.38" y2="110.40" stroke="#000" stroke-width="1"/>
<line x1="628.38" y1="22.00" x2="628.38" y2="25.00" stroke="#000" stroke-width="1"/>
<line x1="677.40" y1="113.40" x2="677.40" y2="110.40" stroke="#000" stroke-width="1"/>
<line x1="677.40" y1="22.00" x2="677.40" y2="25.00" stroke="#000" stroke-width="1"/>
<line x1="400.30" y1="90.70" x2="403.30" y2="90.70" stroke="#000" stroke-width="1"/>
<line x1="681.00" y1="90.70" x2="678.00" y2="90.70" stroke="#000" stroke-width="1"/>
<line x1="400.30" y1="63.10" x2="403.30" y2="63.10" stroke="#000" stroke-width="1"/>
<line x1="681.00" y1="63.10" x2="678.00" y2="63.10" stroke="#000" stroke-width="1"/>
<line x1="400.30" y1="35.50" x2="403.30" y2="35.50" stroke="#000" stroke-width="1"/>
<line x1="681.00" y1="35.50" x2="678.00" y2="35.50" stroke="#000" stroke-width="1"/>
<rect x="400.30" y="22.00" width="280.70" height="91.40" fill="none" stroke="#000" stroke-width="1.3"/>
<text filter="url(#gs)" transform="translate(424.18,124.40) scale(0.820,1)" font-family="Liberation Sans" font-weight="normal" font-size="9.9" fill="#000">18.4</text>
<text filter="url(#gs)" transform="translate(473.28,124.40) scale(0.820,1)" font-family="Liberation Sans" font-weight="normal" font-size="9.9" fill="#000">18.6</text>
<text filter="url(#gs)" transform="translate(522.30,124.40) scale(0.820,1)" font-family="Liberation Sans" font-weight="normal" font-size="9.9" fill="#000">18.8</text>
<text filter="url(#gs)" transform="translate(574.69,124.40) scale(0.820,1)" font-family="Liberation Sans" font-weight="normal" font-size="9.9" fill="#000">19</text>
<text filter="url(#gs)" transform="translate(620.34,124.40) scale(0.820,1)" font-family="Liberation Sans" font-weight="normal" font-size="9.9" fill="#000">19.2</text>
<text filter="url(#gs)" transform="translate(669.28,124.40) scale(0.820,1)" font-family="Liberation Sans" font-weight="normal" font-size="9.9" fill="#000">19.4</text>
<text filter="url(#gs)" transform="translate(388.83,93.85) scale(0.800,1)" font-family="Liberation Sans" font-weight="normal" font-size="9.9" fill="#000">58</text>
<text filter="url(#gs)" transform="translate(382.25,66.25) scale(0.800,1)" font-family="Liberation Sans" font-weight="normal" font-size="9.9" fill="#000">58.2</text>
<text filter="url(#gs)" transform="translate(382.09,38.65) scale(0.800,1)" font-family="Liberation Sans" font-weight="normal" font-size="9.9" fill="#000">58.4</text>
<text filter="url(#gs)" transform="translate(513.71,138.20) scale(0.866,1)" font-family="Liberation Serif" font-weight="normal" font-size="10" fill="#000">Voltage (V) (c)</text>
<text transform="translate(376.60,91.92) rotate(-90) scale(1.062,1)" font-family="Liberation Serif" font-weight="normal" font-size="10" fill="#111">Power (W)</text>
<path d="M400.50,105.32 L402.86,103.68 L405.21,102.03 L407.57,100.38 L409.93,98.72 L412.29,97.06 L414.64,95.40 L417.00,93.74 L419.36,92.09 L421.71,90.44 L424.07,88.79 L426.43,87.16 L428.79,85.53 L431.14,83.92 L433.50,82.32 L435.86,80.73 L438.21,79.16 L440.57,77.61 L442.93,76.07 L445.29,74.56 L447.64,73.06 L450.00,71.59 L452.36,70.14 L454.71,68.72 L457.07,67.32 L459.43,65.94 L461.79,64.60 L464.14,63.28 L466.50,61.99 L468.86,60.72 L471.21,59.49 L473.57,58.29 L475.93,57.13 L478.29,55.99 L480.64,54.89 L483.00,53.82 L485.36,52.78 L487.71,51.78 L490.07,50.81 L492.43,49.88 L494.79,48.98 L497.14,48.12 L499.50,47.30 L501.86,46.51 L504.21,45.75 L506.57,45.04 L508.93,44.36 L511.29,43.71 L513.64,43.11 L516.00,42.54 L518.36,42.01 L520.71,41.51 L523.07,41.06 L525.43,40.64 L527.79,40.25 L530.14,39.91 L532.50,39.60 L534.86,39.32 L537.21,39.09 L539.57,38.89 L541.93,38.73 L544.29,38.60 L546.64,38.51 L549.00,38.45 L551.36,38.44 L553.71,38.45 L556.07,38.51 L558.43,38.60 L560.79,38.72 L563.14,38.88 L565.50,39.08 L567.86,39.31 L570.21,39.57 L572.57,39.87 L574.93,40.20 L577.29,40.57 L579.64,40.97 L582.00,41.41 L584.36,41.88 L586.71,42.39 L589.07,42.93 L591.43,43.51 L593.79,44.12 L596.14,44.76 L598.50,45.44 L600.86,46.15 L603.21,46.90 L605.57,47.69 L607.93,48.51 L610.29,49.37 L612.64,50.26 L615.00,51.19 L617.36,52.16 L619.71,53.17 L622.07,54.21 L624.43,55.30 L626.79,56.42 L629.14,57.59 L631.50,58.79 L633.86,60.04 L636.21,61.33 L638.57,62.67 L640.93,64.05 L643.29,65.48 L645.64,66.96 L648.00,68.49 L650.36,70.07 L652.71,71.70 L655.07,73.39 L657.43,75.13 L659.79,76.93 L662.14,78.79 L664.50,80.71 L666.86,82.70 L669.21,84.75 L671.57,86.87 L673.93,89.06 L676.29,91.33 L678.64,93.67 L681.00,96.09" stroke="#0000ff" stroke-width="1.6" fill="none" stroke-linejoin="round"/>
<path d="M433.80,113.43 L435.76,112.26 L437.72,111.14 L439.69,110.07 L441.65,109.04 L443.61,108.06 L445.57,107.11 L447.53,106.20 L449.49,105.33 L451.46,104.48 L453.42,103.66 L455.38,102.87 L457.34,102.10 L459.30,101.35 L461.27,100.62 L463.23,99.92 L465.19,99.23 L467.15,98.57 L469.11,97.92 L471.07,97.30 L473.04,96.69 L475.00,96.09 L476.96,95.52 L478.92,94.97 L480.88,94.43 L482.84,93.92 L484.81,93.42 L486.77,92.94 L488.73,92.49 L490.69,92.05 L492.65,91.64 L494.62,91.24 L496.58,90.87 L498.54,90.52 L500.50,90.20 L502.46,89.90 L504.42,89.62 L506.39,89.36 L508.35,89.14 L510.31,88.93 L512.27,88.75 L514.23,88.60 L516.20,88.48 L518.16,88.37 L520.12,88.30 L522.08,88.25 L524.04,88.23 L526.00,88.24 L527.97,88.27 L529.93,88.32 L531.89,88.41 L533.85,88.52 L535.81,88.65 L537.78,88.81 L539.74,89.00 L541.70,89.21 L543.66,89.45 L545.62,89.72 L547.58,90.00 L549.55,90.32 L551.51,90.65 L553.47,91.01 L555.43,91.40 L557.39,91.81 L559.36,92.25 L561.32,92.70 L563.28,93.19 L565.24,93.70 L567.20,94.23 L569.16,94.79 L571.13,95.38 L573.09,95.99 L575.05,96.63 L577.01,97.30 L578.97,98.01 L580.93,98.74 L582.90,99.51 L584.86,100.32 L586.82,101.17 L588.78,102.05 L590.74,102.99 L592.71,103.97 L594.67,105.00 L596.63,106.09 L598.59,107.23 L600.55,108.45 L602.51,109.73 L604.48,111.09 L606.44,112.53 L608.40,114.06" stroke="#000" stroke-width="1.6" fill="none" stroke-linejoin="round"/>
<rect x="400.30" y="0.60" width="119.70" height="17.60" fill="#fff" stroke="#000" stroke-width="1.4"/>
<line x1="404.20" y1="8.80" x2="428.40" y2="8.80" stroke="#000" stroke-width="1.4"/>
<line x1="463.30" y1="8.80" x2="487.40" y2="8.80" stroke="#0000ff" stroke-width="1.4"/>
<text filter="url(#gs)" transform="translate(432.15,12.40) scale(0.815,1)" font-family="Liberation Sans" font-weight="normal" font-size="9.5" fill="#222">T=48°C</text>
<text filter="url(#gs)" transform="translate(491.35,12.40) scale(0.800,1)" font-family="Liberation Sans" font-weight="normal" font-size="9.5" fill="#222">T=46°C</text>
<line x1="525.50" y1="87.00" x2="528.40" y2="50.00" stroke="#000" stroke-width="1.5"/>
<path d="M528.40,43.40 L531.26,54.61 L527.84,51.88 L524.08,54.14Z" fill="#000" stroke="#000" stroke-width="0.6" stroke-linejoin="miter"/>
<path d="M634.80,63.60 L612.70,61.00 L607.00,52.00" stroke="#000" stroke-width="1.5" fill="none" stroke-linejoin="round"/>
<path d="M605.40,47.10 L613.88,55.07 L609.35,54.63 L607.15,58.61Z" fill="#000" stroke="#000" stroke-width="0.6" stroke-linejoin="miter"/>
<path d="M605.40,47.10 L587.40,51.30 L579.00,46.00" stroke="#000" stroke-width="1.5" fill="none" stroke-linejoin="round"/>
<path d="M575.50,41.80 L586.47,45.69 L582.14,47.10 L581.73,51.63Z" fill="#000" stroke="#000" stroke-width="0.6" stroke-linejoin="miter"/>
<path d="M573.70,41.50 L566.40,48.10 L562.50,44.00" stroke="#000" stroke-width="1.5" fill="none" stroke-linejoin="round"/>
<path d="M558.70,40.40 L568.32,44.93 L564.00,45.70 L563.23,50.02Z" fill="#000" stroke="#000" stroke-width="0.6" stroke-linejoin="miter"/>
<rect x="494.30" y="44.60" width="30.10" height="28.00" fill="#ffffe6" stroke="#cdcdc4" stroke-width="1"/>
<text filter="url(#gs)" transform="translate(496.99,55.80) scale(0.840,1)" font-family="Liberation Sans" font-weight="normal" font-size="8.2" fill="#1a1a1a" stroke="#1a1a1a" stroke-width="0.1">X: 18.79</text>
<text filter="url(#gs)" transform="translate(496.99,65.30) scale(0.840,1)" font-family="Liberation Sans" font-weight="normal" font-size="8.2" fill="#1a1a1a" stroke="#1a1a1a" stroke-width="0.1">Y: 58.36</text>
<rect x="492.20" y="92.60" width="31.20" height="27.40" fill="#ffffe6" stroke="#cdcdc4" stroke-width="1"/>
<text filter="url(#gs)" transform="translate(494.99,103.20) scale(0.840,1)" font-family="Liberation Sans" font-weight="normal" font-size="8.2" fill="#1a1a1a" stroke="#1a1a1a" stroke-width="0.1">X: 18.78</text>
<text filter="url(#gs)" transform="translate(494.99,112.60) scale(0.840,1)" font-family="Liberation Sans" font-weight="normal" font-size="8.2" fill="#1a1a1a" stroke="#1a1a1a" stroke-width="0.1">Y: 58.01</text>
<rect x="559.30" y="7.30" width="31.50" height="27.20" fill="#ffffe6" stroke="#cdcdc4" stroke-width="1"/>
<text filter="url(#gs)" transform="translate(562.09,17.80) scale(0.840,1)" font-family="Liberation Sans" font-weight="normal" font-size="8.2" fill="#1a1a1a" stroke="#1a1a1a" stroke-width="0.1">X: 18.9</text>
<text filter="url(#gs)" transform="translate(562.09,28.60) scale(0.840,1)" font-family="Liberation Sans" font-weight="normal" font-size="8.2" fill="#1a1a1a" stroke="#1a1a1a" stroke-width="0.1">Y: 58.38</text>
<path d="M531.00,38.50 L549.50,20.40 L628.00,57.30" stroke="#000" stroke-width="1.5" fill="none" stroke-linejoin="round"/>
<path d="M640.50,63.30 L624.89,61.25 L630.10,58.40 L628.98,52.56Z" fill="#000" stroke="#000" stroke-width="0.6" stroke-linejoin="miter"/>
<rect x="605.30" y="67.60" width="31.00" height="27.70" fill="#ffffe6" stroke="#cdcdc4" stroke-width="1"/>
<text filter="url(#gs)" transform="translate(608.09,77.60) scale(0.840,1)" font-family="Liberation Sans" font-weight="normal" font-size="8.2" fill="#1a1a1a" stroke="#1a1a1a" stroke-width="0.1">X: 19.25</text>
<text filter="url(#gs)" transform="translate(608.09,88.20) scale(0.840,1)" font-family="Liberation Sans" font-weight="normal" font-size="8.2" fill="#1a1a1a" stroke="#1a1a1a" stroke-width="0.1">Y: 58.2</text>
<rect x="525.90" y="37.20" width="6.2" height="6.2" fill="#000" stroke="#ffffc8" stroke-width="0.9"/>
<rect x="553.00" y="35.90" width="6.2" height="6.2" fill="#000" stroke="#ffffc8" stroke-width="0.9"/>
<rect x="636.40" y="60.40" width="6.2" height="6.2" fill="#000" stroke="#ffffc8" stroke-width="0.9"/>
<rect x="523.70" y="85.60" width="6.2" height="6.2" fill="#000" stroke="#ffffc8" stroke-width="0.9"/>
<text filter="url(#gs)" transform="translate(523.74,33.40) scale(0.867,1)" font-family="Liberation Serif" font-weight="bold" font-size="9.3" fill="#000">B</text>
<text filter="url(#gs)" transform="translate(547.75,48.60) scale(0.827,1)" font-family="Liberation Serif" font-weight="bold" font-size="9.3" fill="#000">D</text>
<text filter="url(#gs)" transform="translate(539.87,60.50) scale(0.899,1)" font-family="Liberation Serif" font-weight="bold" font-size="9.3" fill="#000">(MPP)</text>
<text filter="url(#gs)" transform="translate(524.73,101.00) scale(0.722,1)" font-family="Liberation Serif" font-weight="bold" font-size="9.3" fill="#000">A</text>
<text filter="url(#gs)" transform="translate(533.38,101.00) scale(0.864,1)" font-family="Liberation Serif" font-weight="bold" font-size="9.3" fill="#000">(MPP)</text>
<text filter="url(#gs)" transform="translate(642.54,61.00) scale(0.986,1)" font-family="Liberation Serif" font-weight="bold" font-size="9.3" fill="#000">C</text>
<line x1="426.50" y1="245.20" x2="426.50" y2="155.10" stroke="#000" stroke-width="1.0" stroke-dasharray="3.6 4"/>
<line x1="451.50" y1="245.20" x2="451.50" y2="155.10" stroke="#000" stroke-width="1.0" stroke-dasharray="3.6 4"/>
<line x1="477.50" y1="245.20" x2="477.50" y2="155.10" stroke="#000" stroke-width="1.0" stroke-dasharray="3.6 4"/>
<line x1="503.50" y1="245.20" x2="503.50" y2="155.10" stroke="#000" stroke-width="1.0" stroke-dasharray="3.6 4"/>
<line x1="400.50" y1="215.50" x2="528.70" y2="215.50" stroke="#000" stroke-width="1.0" stroke-dasharray="3 3.6"/>
<line x1="400.50" y1="185.50" x2="528.70" y2="185.50" stroke="#000" stroke-width="1.0" stroke-dasharray="3 3.6"/>
<line x1="400.50" y1="245.20" x2="400.50" y2="242.20" stroke="#000" stroke-width="1"/>
<line x1="400.50" y1="155.10" x2="400.50" y2="158.10" stroke="#000" stroke-width="1"/>
<line x1="426.16" y1="245.20" x2="426.16" y2="242.20" stroke="#000" stroke-width="1"/>
<line x1="426.16" y1="155.10" x2="426.16" y2="158.10" stroke="#000" stroke-width="1"/>
<line x1="451.82" y1="245.20" x2="451.82" y2="242.20" stroke="#000" stroke-width="1"/>
<line x1="451.82" y1="155.10" x2="451.82" y2="158.10" stroke="#000" stroke-width="1"/>
<line x1="477.48" y1="245.20" x2="477.48" y2="242.20" stroke="#000" stroke-width="1"/>
<line x1="477.48" y1="155.10" x2="477.48" y2="158.10" stroke="#000" stroke-width="1"/>
<line x1="503.14" y1="245.20" x2="503.14" y2="242.20" stroke="#000" stroke-width="1"/>
<line x1="503.14" y1="155.10" x2="503.14" y2="158.10" stroke="#000" stroke-width="1"/>
<line x1="528.80" y1="245.20" x2="528.80" y2="242.20" stroke="#000" stroke-width="1"/>
<line x1="528.80" y1="155.10" x2="528.80" y2="158.10" stroke="#000" stroke-width="1"/>
<line x1="400.50" y1="215.20" x2="403.50" y2="215.20" stroke="#000" stroke-width="1"/>
<line x1="528.70" y1="215.20" x2="525.70" y2="215.20" stroke="#000" stroke-width="1"/>
<line x1="400.50" y1="185.15" x2="403.50" y2="185.15" stroke="#000" stroke-width="1"/>
<line x1="528.70" y1="185.15" x2="525.70" y2="185.15" stroke="#000" stroke-width="1"/>
<line x1="400.50" y1="155.10" x2="403.50" y2="155.10" stroke="#000" stroke-width="1"/>
<line x1="528.70" y1="155.10" x2="525.70" y2="155.10" stroke="#000" stroke-width="1"/>
<rect x="400.50" y="155.10" width="128.20" height="90.10" fill="none" stroke="#000" stroke-width="1.3"/>
<text filter="url(#gs)" transform="translate(398.23,257.20) scale(0.820,1)" font-family="Liberation Sans" font-weight="normal" font-size="9.9" fill="#000">0</text>
<text filter="url(#gs)" transform="translate(423.89,257.20) scale(0.820,1)" font-family="Liberation Sans" font-weight="normal" font-size="9.9" fill="#000">2</text>
<text filter="url(#gs)" transform="translate(449.59,257.20) scale(0.820,1)" font-family="Liberation Sans" font-weight="normal" font-size="9.9" fill="#000">4</text>
<text filter="url(#gs)" transform="translate(475.21,257.20) scale(0.820,1)" font-family="Liberation Sans" font-weight="normal" font-size="9.9" fill="#000">6</text>
<text filter="url(#gs)" transform="translate(500.91,257.20) scale(0.820,1)" font-family="Liberation Sans" font-weight="normal" font-size="9.9" fill="#000">8</text>
<text filter="url(#gs)" transform="translate(524.09,257.20) scale(0.820,1)" font-family="Liberation Sans" font-weight="normal" font-size="9.9" fill="#000">10</text>
<text filter="url(#gs)" transform="translate(386.53,218.35) scale(0.800,1)" font-family="Liberation Sans" font-weight="normal" font-size="9.9" fill="#000">0.4</text>
<text filter="url(#gs)" transform="translate(386.69,188.30) scale(0.800,1)" font-family="Liberation Sans" font-weight="normal" font-size="9.9" fill="#000">0.5</text>
<text filter="url(#gs)" transform="translate(386.69,158.25) scale(0.800,1)" font-family="Liberation Sans" font-weight="normal" font-size="9.9" fill="#000">0.6</text>
<text filter="url(#gs)" transform="translate(442.72,269.90) scale(0.892,1)" font-family="Liberation Serif" font-weight="normal" font-size="10" fill="#000">Time (s) (d)</text>
<text transform="translate(380.00,246.34) rotate(-90) scale(1.064,1)" font-family="Liberation Serif" font-weight="normal" font-size="10" fill="#111">Step size perturbation</text>
<path d="M400.8,215 V166.4 H463.5 L464.2,168 L465,166.4 H528.5" stroke="#0000ff" stroke-width="1.7" fill="none" stroke-linejoin="round"/>
<rect x="459.80" y="159.40" width="8.90" height="18.60" fill="none" stroke="#000" stroke-width="1.2" stroke-dasharray="3 1.8"/>
<line x1="464.80" y1="201.40" x2="464.80" y2="186.00" stroke="#000" stroke-width="1.4"/>
<path d="M464.80,179.20 L468.60,192.20 L464.80,189.20 L461.00,192.20Z" fill="#000" stroke="#000" stroke-width="0.6" stroke-linejoin="miter"/>
<text filter="url(#gs)" transform="translate(462.04,210.30) scale(1.181,1)" font-family="Liberation Serif" font-weight="normal" font-size="9.5" fill="#000">3</text>
<line x1="554.60" y1="244.90" x2="554.60" y2="241.90" stroke="#000" stroke-width="1"/>
<line x1="554.60" y1="155.00" x2="554.60" y2="158.00" stroke="#000" stroke-width="1"/>
<line x1="617.00" y1="244.90" x2="617.00" y2="241.90" stroke="#000" stroke-width="1"/>
<line x1="617.00" y1="155.00" x2="617.00" y2="158.00" stroke="#000" stroke-width="1"/>
<line x1="679.40" y1="244.90" x2="679.40" y2="241.90" stroke="#000" stroke-width="1"/>
<line x1="679.40" y1="155.00" x2="679.40" y2="158.00" stroke="#000" stroke-width="1"/>
<line x1="554.60" y1="155.00" x2="557.60" y2="155.00" stroke="#000" stroke-width="1"/>
<line x1="679.40" y1="155.00" x2="676.40" y2="155.00" stroke="#000" stroke-width="1"/>
<line x1="554.60" y1="177.50" x2="557.60" y2="177.50" stroke="#000" stroke-width="1"/>
<line x1="679.40" y1="177.50" x2="676.40" y2="177.50" stroke="#000" stroke-width="1"/>
<line x1="554.60" y1="200.00" x2="557.60" y2="200.00" stroke="#000" stroke-width="1"/>
<line x1="679.40" y1="200.00" x2="676.40" y2="200.00" stroke="#000" stroke-width="1"/>
<line x1="554.60" y1="222.50" x2="557.60" y2="222.50" stroke="#000" stroke-width="1"/>
<line x1="679.40" y1="222.50" x2="676.40" y2="222.50" stroke="#000" stroke-width="1"/>
<line x1="554.60" y1="245.00" x2="557.60" y2="245.00" stroke="#000" stroke-width="1"/>
<line x1="679.40" y1="245.00" x2="676.40" y2="245.00" stroke="#000" stroke-width="1"/>
<rect x="554.60" y="155.00" width="124.80" height="89.90" fill="none" stroke="#000" stroke-width="1.3"/>
<line x1="554.60" y1="177.50" x2="679.40" y2="177.50" stroke="#000" stroke-width="1.0" stroke-dasharray="3 3.6"/>
<line x1="554.60" y1="200.00" x2="679.40" y2="200.00" stroke="#000" stroke-width="1.5" stroke-dasharray="3 3.6"/>
<line x1="554.60" y1="222.80" x2="679.40" y2="222.80" stroke="#000" stroke-width="1.4" stroke-dasharray="3 3.6"/>
<line x1="616.50" y1="244.90" x2="616.50" y2="228.00" stroke="#000" stroke-width="1.0" stroke-dasharray="3.6 4"/>
<text filter="url(#gs)" transform="translate(552.33,256.80) scale(0.820,1)" font-family="Liberation Sans" font-weight="normal" font-size="9.9" fill="#000">0</text>
<text filter="url(#gs)" transform="translate(614.77,256.80) scale(0.820,1)" font-family="Liberation Sans" font-weight="normal" font-size="9.9" fill="#000">5</text>
<text filter="url(#gs)" transform="translate(674.69,256.80) scale(0.820,1)" font-family="Liberation Sans" font-weight="normal" font-size="9.9" fill="#000">10</text>
<text filter="url(#gs)" transform="translate(547.68,158.15) scale(0.800,1)" font-family="Liberation Sans" font-weight="normal" font-size="9.9" fill="#000">0</text>
<text filter="url(#gs)" transform="translate(545.15,180.65) scale(0.800,1)" font-family="Liberation Sans" font-weight="normal" font-size="9.9" fill="#000">-2</text>
<text filter="url(#gs)" transform="translate(544.99,203.15) scale(0.800,1)" font-family="Liberation Sans" font-weight="normal" font-size="9.9" fill="#000">-4</text>
<text filter="url(#gs)" transform="translate(545.15,225.65) scale(0.800,1)" font-family="Liberation Sans" font-weight="normal" font-size="9.9" fill="#000">-6</text>
<text filter="url(#gs)" transform="translate(545.15,248.15) scale(0.800,1)" font-family="Liberation Sans" font-weight="normal" font-size="9.9" fill="#000">-8</text>
<text filter="url(#gs)" transform="translate(591.52,269.90) scale(0.899,1)" font-family="Liberation Serif" font-weight="normal" font-size="10" fill="#000">Time (s) (d1)</text>
<text transform="translate(538.90,246.14) rotate(-90) scale(1.060,1)" font-family="Liberation Serif" font-weight="normal" font-size="10" fill="#111">Step size perturbation</text>
<line x1="554.60" y1="155.00" x2="679.40" y2="155.00" stroke="#0000ff" stroke-width="1.3"/>
<line x1="616.50" y1="155.00" x2="616.50" y2="228.00" stroke="#0000ff" stroke-width="1.2"/>
<text filter="url(#gs)" transform="translate(554.62,148.70) scale(0.859,1)" font-family="Liberation Sans" font-weight="normal" font-size="9.3" fill="#000">x 10</text>
<text filter="url(#gs)" transform="translate(569.33,143.50) scale(0.982,1)" font-family="Liberation Sans" font-weight="normal" font-size="7" fill="#000">-3</text>
<text filter="url(#gs)" transform="translate(565.46,170.70) scale(0.882,1)" font-family="Liberation Serif" font-weight="normal" font-size="10" fill="#000">Zoom 3</text>
<rect x="619.30" y="200.70" width="50.00" height="27.50" fill="#ffffe6" stroke="#cdcdc4" stroke-width="1"/>
<text filter="url(#gs)" transform="translate(622.69,211.30) scale(0.840,1)" font-family="Liberation Sans" font-weight="normal" font-size="8.2" fill="#1a1a1a" stroke="#1a1a1a" stroke-width="0.1">X= 5.001</text>
<text filter="url(#gs)" transform="translate(622.69,220.40) scale(0.840,1)" font-family="Liberation Sans" font-weight="normal" font-size="8.2" fill="#1a1a1a" stroke="#1a1a1a" stroke-width="0.1">Y= -0.0068623</text>
<rect x="613.50" y="228.90" width="6.2" height="6.2" fill="#000" stroke="#ffffc8" stroke-width="0.9"/>
<line x1="577.70" y1="270.50" x2="609.00" y2="217.50" stroke="#000" stroke-width="1.5"/>
<path d="M614.70,208.40 L611.99,220.76 L610.09,216.13 L605.12,216.66Z" fill="#000" stroke="#000" stroke-width="0.6" stroke-linejoin="miter"/>
<line x1="412.50" y1="376.50" x2="412.50" y2="285.80" stroke="#000" stroke-width="1.0" stroke-dasharray="3.6 4"/>
<line x1="460.50" y1="376.50" x2="460.50" y2="285.80" stroke="#000" stroke-width="1.0" stroke-dasharray="3.6 4"/>
<line x1="509.50" y1="376.50" x2="509.50" y2="285.80" stroke="#000" stroke-width="1.0" stroke-dasharray="3.6 4"/>
<line x1="558.50" y1="376.50" x2="558.50" y2="285.80" stroke="#000" stroke-width="1.0" stroke-dasharray="3.6 4"/>
<line x1="607.50" y1="376.50" x2="607.50" y2="285.80" stroke="#000" stroke-width="1.0" stroke-dasharray="3.6 4"/>
<line x1="655.50" y1="376.50" x2="655.50" y2="285.80" stroke="#000" stroke-width="1.0" stroke-dasharray="3.6 4"/>
<line x1="400.80" y1="371.50" x2="682.00" y2="371.50" stroke="#000" stroke-width="1.0" stroke-dasharray="3 3.6"/>
<line x1="400.80" y1="353.50" x2="682.00" y2="353.50" stroke="#000" stroke-width="1.0" stroke-dasharray="3 3.6"/>
<line x1="400.80" y1="337.50" x2="682.00" y2="337.50" stroke="#000" stroke-width="1.0" stroke-dasharray="3 3.6"/>
<line x1="400.80" y1="319.50" x2="682.00" y2="319.50" stroke="#000" stroke-width="1.0" stroke-dasharray="3 3.6"/>
<line x1="400.80" y1="302.50" x2="682.00" y2="302.50" stroke="#000" stroke-width="1.0" stroke-dasharray="3 3.6"/>
<line x1="412.20" y1="376.50" x2="412.20" y2="373.50" stroke="#000" stroke-width="1"/>
<line x1="412.20" y1="285.80" x2="412.20" y2="288.80" stroke="#000" stroke-width="1"/>
<line x1="460.90" y1="376.50" x2="460.90" y2="373.50" stroke="#000" stroke-width="1"/>
<line x1="460.90" y1="285.80" x2="460.90" y2="288.80" stroke="#000" stroke-width="1"/>
<line x1="509.60" y1="376.50" x2="509.60" y2="373.50" stroke="#000" stroke-width="1"/>
<line x1="509.60" y1="285.80" x2="509.60" y2="288.80" stroke="#000" stroke-width="1"/>
<line x1="558.30" y1="376.50" x2="558.30" y2="373.50" stroke="#000" stroke-width="1"/>
<line x1="558.30" y1="285.80" x2="558.30" y2="288.80" stroke="#000" stroke-width="1"/>
<line x1="607.00" y1="376.50" x2="607.00" y2="373.50" stroke="#000" stroke-width="1"/>
<line x1="607.00" y1="285.80" x2="607.00" y2="288.80" stroke="#000" stroke-width="1"/>
<line x1="655.70" y1="376.50" x2="655.70" y2="373.50" stroke="#000" stroke-width="1"/>
<line x1="655.70" y1="285.80" x2="655.70" y2="288.80" stroke="#000" stroke-width="1"/>
<line x1="400.80" y1="371.20" x2="403.80" y2="371.20" stroke="#000" stroke-width="1"/>
<line x1="682.00" y1="371.20" x2="679.00" y2="371.20" stroke="#000" stroke-width="1"/>
<line x1="400.80" y1="353.40" x2="403.80" y2="353.40" stroke="#000" stroke-width="1"/>
<line x1="682.00" y1="353.40" x2="679.00" y2="353.40" stroke="#000" stroke-width="1"/>
<line x1="400.80" y1="337.20" x2="403.80" y2="337.20" stroke="#000" stroke-width="1"/>
<line x1="682.00" y1="337.20" x2="679.00" y2="337.20" stroke="#000" stroke-width="1"/>
<line x1="400.80" y1="319.30" x2="403.80" y2="319.30" stroke="#000" stroke-width="1"/>
<line x1="682.00" y1="319.30" x2="679.00" y2="319.30" stroke="#000" stroke-width="1"/>
<line x1="400.80" y1="302.40" x2="403.80" y2="302.40" stroke="#000" stroke-width="1"/>
<line x1="682.00" y1="302.40" x2="679.00" y2="302.40" stroke="#000" stroke-width="1"/>
<rect x="400.80" y="285.80" width="281.20" height="90.70" fill="none" stroke="#000" stroke-width="1.3"/>
<text filter="url(#gs)" transform="translate(453.03,387.60) scale(0.820,1)" font-family="Liberation Sans" font-weight="normal" font-size="9.9" fill="#000">5.01</text>
<text filter="url(#gs)" transform="translate(501.73,387.60) scale(0.820,1)" font-family="Liberation Sans" font-weight="normal" font-size="9.9" fill="#000">5.02</text>
<text filter="url(#gs)" transform="translate(550.43,387.60) scale(0.820,1)" font-family="Liberation Sans" font-weight="normal" font-size="9.9" fill="#000">5.03</text>
<text filter="url(#gs)" transform="translate(599.04,387.60) scale(0.820,1)" font-family="Liberation Sans" font-weight="normal" font-size="9.9" fill="#000">5.04</text>
<text filter="url(#gs)" transform="translate(647.83,387.60) scale(0.820,1)" font-family="Liberation Sans" font-weight="normal" font-size="9.9" fill="#000">5.05</text>
<text filter="url(#gs)" transform="translate(379.02,356.55) scale(0.800,1)" font-family="Liberation Sans" font-weight="normal" font-size="9.9" fill="#000">0.556</text>
<text filter="url(#gs)" transform="translate(379.02,340.35) scale(0.800,1)" font-family="Liberation Sans" font-weight="normal" font-size="9.9" fill="#000">0.558</text>
<text filter="url(#gs)" transform="translate(383.45,322.45) scale(0.800,1)" font-family="Liberation Sans" font-weight="normal" font-size="9.9" fill="#000">0.56</text>
<text filter="url(#gs)" transform="translate(379.02,305.55) scale(0.800,1)" font-family="Liberation Sans" font-weight="normal" font-size="9.9" fill="#000">0.562</text>
<text filter="url(#gs)" transform="translate(519.02,401.60) scale(0.900,1)" font-family="Liberation Serif" font-weight="normal" font-size="10" fill="#000">Time (s) (e)</text>
<text transform="translate(373.00,354.11) rotate(-90) scale(1.026,1)" font-family="Liberation Serif" font-weight="normal" font-size="10" fill="#111">Duty cycle</text>
<text filter="url(#gs)" transform="translate(478.14,280.30) scale(0.868,1)" font-family="Liberation Serif" font-weight="normal" font-size="10" fill="#000">Large step size perturbation</text>
<path d="M401.00,302.90 L416.20,302.90" stroke="#0000ff" stroke-width="1.3" fill="none" stroke-linejoin="round"/>
<line x1="416.20" y1="302.90" x2="416.20" y2="358.50" stroke="#0000ff" stroke-width="1.3"/>
<path d="M419.50,362.20 L420.30,362.20 L425.35,362.20 L425.35,360.55 L430.40,360.55 L430.40,357.81 L435.45,357.81 L435.45,354.50 L440.50,354.50 L440.50,351.60 L445.55,351.60 L445.55,349.75 L450.60,349.75 L450.60,347.30 L455.65,347.30 L455.65,344.48 L460.70,344.48 L460.70,342.15 L465.75,342.15 L465.75,339.98 L470.80,339.98 L470.80,337.83 L475.85,337.83 L475.85,336.03 L480.90,336.03 L480.90,334.26 L485.95,334.26 L485.95,332.54 L491.00,332.54 L491.00,330.82 L496.05,330.82 L496.05,329.21 L501.10,329.21 L501.10,327.76 L506.15,327.76 L506.15,326.32 L511.20,326.32 L511.20,325.03 L516.25,325.03 L516.25,323.95 L521.30,323.95 L521.30,322.86 L526.35,322.86 L526.35,321.78 L531.40,321.78 L531.40,320.82 L536.45,320.82 L536.45,320.19 L541.50,320.19 L541.50,319.56 L546.55,319.56 L546.55,318.93 L551.60,318.93 L551.60,318.30 L556.65,318.30 L556.65,317.67 L561.70,317.67 L561.70,317.08 L566.75,317.08 L566.75,316.51 L571.80,316.51 L571.80,315.93 L576.85,315.93 L576.85,315.36 L581.90,315.36 L581.90,314.83 L586.95,314.83 L586.95,314.37 L592.00,314.37 L592.00,313.92 L597.05,313.92 L597.05,313.47 L602.10,313.47 L602.10,313.13 L607.15,313.13 L607.15,312.96 L612.20,312.96 L612.20,312.79 L617.25,312.79 L617.25,312.62 L622.30,312.62 L622.30,312.46 L627.35,312.46 L627.35,312.29 L632.40,312.29 L632.40,312.16 L637.45,312.16 L637.45,312.09 L642.50,312.09 L642.50,312.01 L647.55,312.01 L647.55,311.93 L652.60,311.93 L652.60,311.85 L657.65,311.85 L657.65,311.77 L662.70,311.77 L662.70,311.70 L667.75,311.70 L667.75,311.62 L672.80,311.62 L672.80,311.54 L677.85,311.54 L677.85,311.46 L682.00,311.46" stroke="#0000ff" stroke-width="1.3" fill="none" stroke-linejoin="round"/>
<rect x="414.70" y="272.00" width="39.90" height="26.60" fill="#ffffe6" stroke="#cdcdc4" stroke-width="1"/>
<text filter="url(#gs)" transform="translate(417.39,282.50) scale(0.840,1)" font-family="Liberation Sans" font-weight="normal" font-size="8.2" fill="#1a1a1a" stroke="#1a1a1a" stroke-width="0.1">X= 5</text>
<text filter="url(#gs)" transform="translate(417.39,293.00) scale(0.840,1)" font-family="Liberation Sans" font-weight="normal" font-size="8.2" fill="#1a1a1a" stroke="#1a1a1a" stroke-width="0.1">Y= 0.56191</text>
<rect x="371.20" y="365.30" width="41.20" height="28.50" fill="#ffffe6" stroke="#cdcdc4" stroke-width="1"/>
<text filter="url(#gs)" transform="translate(373.89,376.60) scale(0.840,1)" font-family="Liberation Sans" font-weight="normal" font-size="8.2" fill="#1a1a1a" stroke="#1a1a1a" stroke-width="0.1">X= 5.001</text>
<text filter="url(#gs)" transform="translate(373.89,386.10) scale(0.840,1)" font-family="Liberation Sans" font-weight="normal" font-size="8.2" fill="#1a1a1a" stroke="#1a1a1a" stroke-width="0.1">Y= 0.55505</text>
<rect x="408.10" y="300.40" width="6.2" height="6.2" fill="#000" stroke="#ffffc8" stroke-width="0.9"/>
<rect x="412.80" y="358.80" width="6.2" height="6.2" fill="#000" stroke="#ffffc8" stroke-width="0.9"/>
</svg>
</body></html>
